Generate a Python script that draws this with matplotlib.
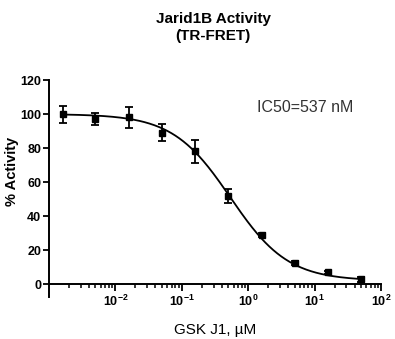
import numpy as np
import matplotlib
matplotlib.use("Agg")
import matplotlib.pyplot as plt
from matplotlib.ticker import LogLocator, NullFormatter, FixedLocator

plt.rcParams["font.family"] = ["Liberation Sans", "DejaVu Sans"]

# GSK J1 concentration (uM) and % activity
conc = [0.0016, 0.005, 0.016, 0.05, 0.16, 0.5, 1.6, 5, 16, 50]
activity = [100, 97, 98, 89, 78, 52, 29, 12.5, 7, 3]
err = [5, 3.5, 6, 5, 7, 4, 1, 1, 1, 1.5]

# 4PL fit parameters reported on the figure
top, bottom, ic50, hill = 100, 2, 0.537, 1.0

fig = plt.figure(figsize=(3.95, 3.39), dpi=100)
ax = fig.add_axes([0.124, 0.124, 0.841, 0.640])

xs = np.logspace(np.log10(conc[0]), np.log10(conc[-1]), 300)
fit = bottom + (top - bottom) / (1 + (xs / ic50) ** hill)
ax.plot(xs, fit, color="black", lw=1.3, zorder=2)
ax.errorbar(conc, activity, yerr=err, fmt="s", color="black", ms=5,
            capsize=3, elinewidth=1.3, capthick=1.3, zorder=3)

ax.set_xscale("log")
ax.set_xlim(1e-3, 1e2)
ax.set_ylim(-7.5, 120)
ax.set_yticks([0, 20, 40, 60, 80, 100, 120])

ax.spines["top"].set_visible(False)
ax.spines["right"].set_visible(False)
ax.spines["bottom"].set_position(("data", 0))
ax.spines["left"].set_bounds(-7.5, 120)
for s in ["left", "bottom"]:
    ax.spines[s].set_linewidth(1.4)

ax.xaxis.set_major_locator(FixedLocator([1e-2, 1e-1, 1e0, 1e1, 1e2]))
ax.xaxis.set_minor_locator(LogLocator(base=10, subs=np.arange(2, 10), numticks=20))
ax.xaxis.set_minor_formatter(NullFormatter())
ax.tick_params(axis="x", which="major", direction="out", length=5, width=1.3,
               labelsize=9, pad=2)
ax.tick_params(axis="x", which="minor", direction="out", length=3, width=1.1)
ax.tick_params(axis="y", direction="out", length=4, width=1.3, labelsize=9, pad=1.5)
for lab in ax.get_yticklabels() + ax.get_xticklabels():
    lab.set_fontweight("bold")

ax.set_ylabel("% Activity", fontsize=10.5, fontweight="bold")
ax.yaxis.set_label_coords(-0.09, 0.58)
ax.set_xlabel("GSK J1, \u00b5M", fontsize=11)
ax.xaxis.set_label_coords(0.5, -0.12)

ax.text(0.77, 0.875, "IC50=537 nM", transform=ax.transAxes, fontsize=11.5,
        color="#333333", ha="center", va="center")

fig.text(0.54, 0.918, "Jarid1B Activity\n(TR-FRET)", ha="center", va="center",
         fontsize=11, fontweight="bold", linespacing=1.3)

fig.savefig("out.png", dpi=100)
